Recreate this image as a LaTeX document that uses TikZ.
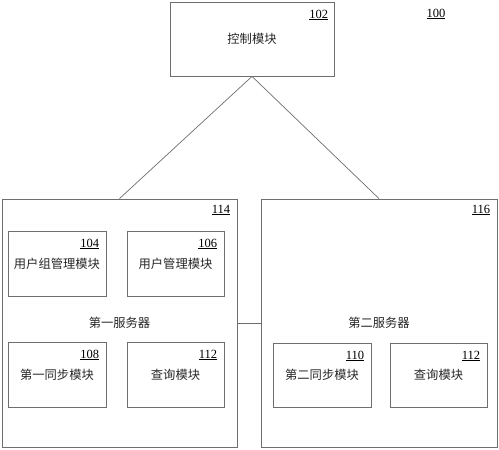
\documentclass[tikz,border=0pt]{standalone}
\usepackage{fontspec}
\setmainfont{Liberation Serif}
\newfontfamily\cjk{Noto Sans CJK SC}
\usepackage{tikz}
\usetikzlibrary{positioning}
\definecolor{edge}{HTML}{6E6E6E}
\newcommand{\refnum}[1]{\underline{#1}}

\begin{document}
\begin{tikzpicture}[x=1pt,y=-1pt,
    box/.style={draw=edge,line width=0.8pt,inner sep=0pt,
      font=\cjk\fontsize{12.3}{14}\selectfont,text=black!85},
    num/.style={inner sep=0pt,anchor=north east,
      font=\fontsize{12.5}{14}\selectfont},
    link/.style={draw=edge,line width=0.7pt}]
  \useasboundingbox (0,0) rectangle (499,450);
  % control module
  \node[box,minimum width=164pt,minimum height=74pt] (ctrl) at (252,39) {控制模块};
  \node[num] (n102) at ([xshift=-6pt,yshift=-8pt]ctrl.north east) {\refnum{102}};
  \node[num,anchor=center] (n100) at (436,14) {\refnum{100}};
  % servers
  \node[box,minimum width=235pt,minimum height=248pt] (srvA) at (119.5,323) {第一服务器};
  \node[num] (n114) at ([xshift=-7pt,yshift=-6pt]srvA.north east) {\refnum{114}};
  \node[box,minimum width=236pt,minimum height=248pt] (srvB) at (379,323) {第二服务器};
  \node[num] (n116) at ([xshift=-7pt,yshift=-6pt]srvB.north east) {\refnum{116}};
  % modules of the first server
  \node[box,minimum width=98pt,minimum height=65pt] (m104) at (57,263.5) {用户组管理模块};
  \node[num] (n104) at ([xshift=-7pt,yshift=-8pt]m104.north east) {\refnum{104}};
  \node[box,minimum width=97pt,minimum height=65pt] (m106) at (175.5,263.5) {用户管理模块};
  \node[num] (n106) at ([xshift=-7pt,yshift=-8pt]m106.north east) {\refnum{106}};
  \node[box,minimum width=98pt,minimum height=65pt] (m108) at (57,374.5) {第一同步模块};
  \node[num] (n108) at ([xshift=-7pt,yshift=-8pt]m108.north east) {\refnum{108}};
  \node[box,minimum width=97pt,minimum height=65pt] (m112a) at (175.5,374.5) {查询模块};
  \node[num] (n112a) at ([xshift=-7pt,yshift=-8pt]m112a.north east) {\refnum{112}};
  % modules of the second server
  \node[box,minimum width=98pt,minimum height=64pt] (m110) at (322,375) {第二同步模块};
  \node[num] (n110) at ([xshift=-7pt,yshift=-8pt]m110.north east) {\refnum{110}};
  \node[box,minimum width=97pt,minimum height=64pt] (m112b) at (438.5,375) {查询模块};
  \node[num] (n112b) at ([xshift=-7pt,yshift=-8pt]m112b.north east) {\refnum{112}};
  % connectors
  \draw[link] (ctrl.south) -- (srvA.north);
  \draw[link] (ctrl.south) -- (srvB.north);
  \draw[link] (srvA.east) -- (srvB.west);
\end{tikzpicture}
\end{document}
